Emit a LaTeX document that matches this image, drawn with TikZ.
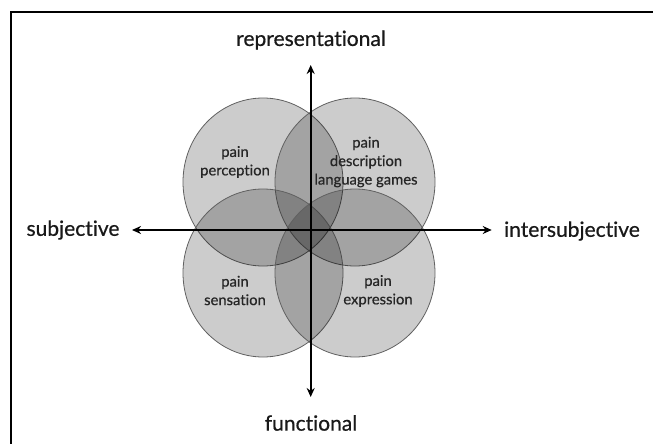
\documentclass[tikz,border=0pt]{standalone}
\usepackage{fontspec}
\setmainfont{Lato}[Ligatures=NoCommon]
\newfontfamily\labfont{Lato}[Ligatures=NoCommon, FakeBold=0.6]
\usetikzlibrary{arrows.meta,shapes.geometric}
\begin{document}
\begin{tikzpicture}[x=1pt,y=-1pt,
  blob/.style={ellipse, draw=black!62, line width=0.8pt, fill=black, fill opacity=0.2,
    draw opacity=1, minimum width=160pt, minimum height=168pt, inner sep=0pt},
  axislabel/.style={inner sep=0pt, text=black!90, font=\labfont\fontsize{21}{24}\selectfont},
  innerlabel/.style={inner sep=0pt, align=center, text=black!85, font=\labfont\fontsize{14.8}{18.5}\selectfont},
  axis/.style={line width=1.6pt, {Stealth[length=9pt,width=8pt]}-{Stealth[length=9pt,width=8pt]}}
]
\useasboundingbox (0,0) rectangle (653,444);
\fill[white] (0,0) rectangle (653,444);
% frame
\draw[line width=2pt] (11,444) -- (11,12.3) -- (653,12.3);
% circles
\node[blob] (perc) at (263,182) {};
\node[blob] (desc) at (355,182) {};
\node[blob] (sens) at (263,273) {};
\node[blob] (expr) at (355,273) {};
% inner labels
\node[innerlabel] (tperc) at (235,162) {pain\\perception};
\node[innerlabel] (tdesc) at (366,162) {pain\\description\\language games};
\node[innerlabel] (tsens) at (235,290.5) {pain\\sensation};
\node[innerlabel] (texpr) at (378,291) {pain\\expression};
% axis labels
\node[axislabel] (rep) at (311,40) {representational};
\node[axislabel] (fun) at (311,423) {functional};
\node[axislabel] (sub) at (73,230) {subjective};
\node[axislabel] (int) at (572,231) {intersubjective};
% axes
\coordinate (top) at (310.7,65);
\coordinate (bot) at (310.7,397);
\coordinate (lft) at (132,230);
\coordinate (rgt) at (491.7,230);
\draw[axis] (top) -- (bot);
\draw[axis] (lft) -- (rgt);
\end{tikzpicture}
\end{document}
